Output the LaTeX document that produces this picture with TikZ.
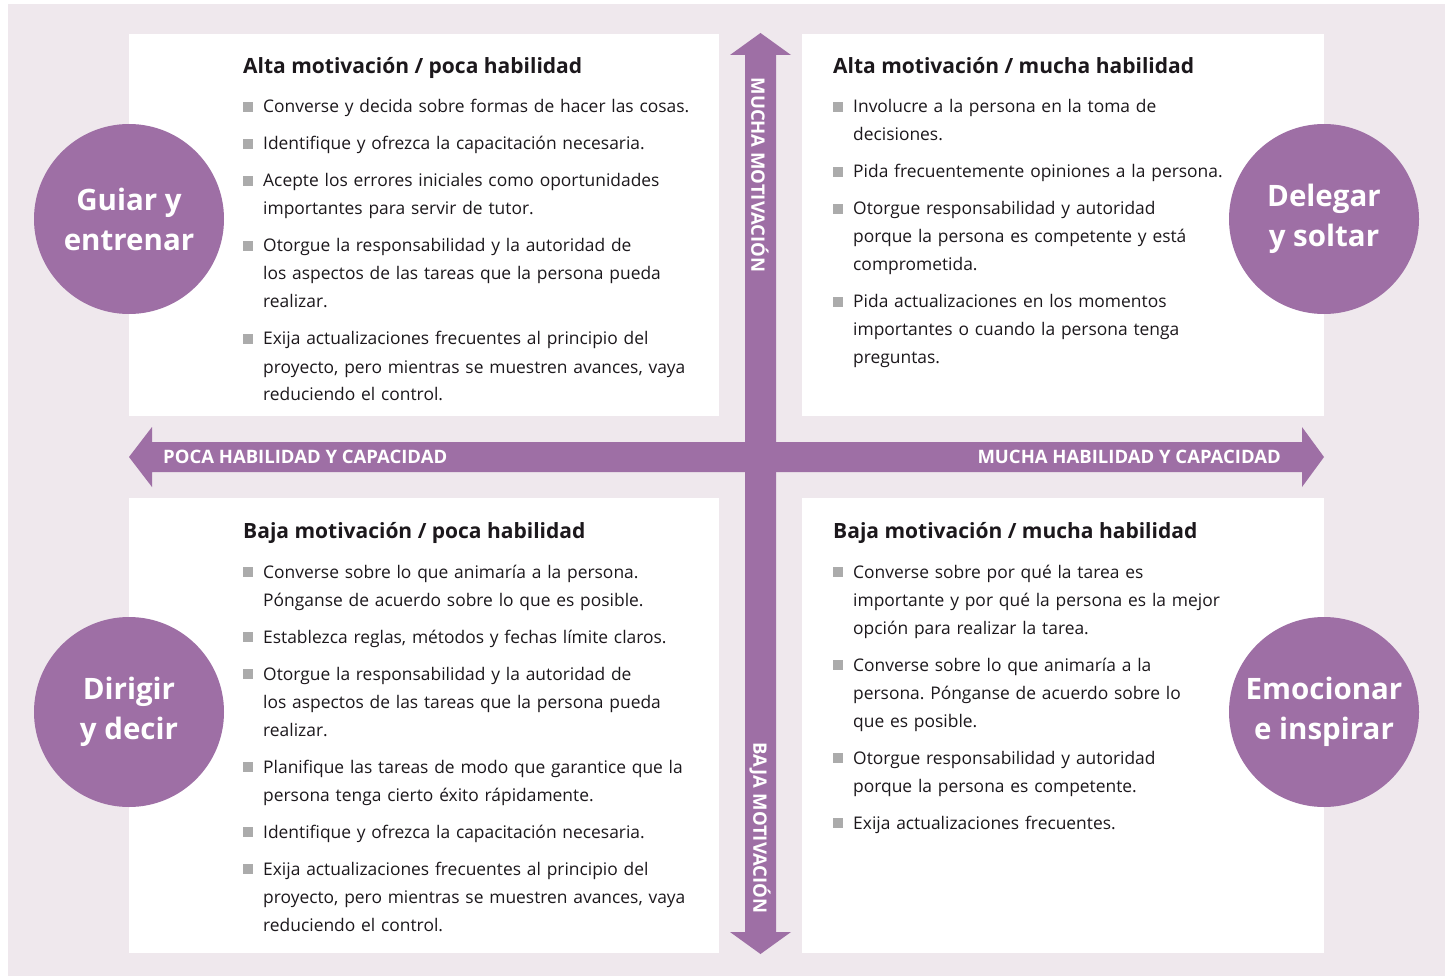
\documentclass[tikz,border=0pt]{standalone}
\usepackage{fontspec}
\setmainfont{Open Sans}
\usepackage{tikz}

\definecolor{morado}{RGB}{158,111,165}
\definecolor{fondo}{RGB}{239,232,237}
\definecolor{gris}{RGB}{171,171,171}
\definecolor{texto}{RGB}{28,24,28}

% one item of a list: grey square, then hanging text
\newcommand\punto[1]{\hangindent=20pt\hangafter=1\noindent\makebox[20pt][l]{\textcolor{gris}{\rule[1pt]{10pt}{10pt}}}#1\par}

\tikzset{
  titulo/.style={anchor=base west, inner sep=0, text=texto,
    font=\bfseries\fontsize{21}{25}\selectfont},
  lista/.style={anchor=base west, inner sep=0, text=texto, text width=480pt,
    align=left, font=\fontsize{17.4}{28}\selectfont\frenchspacing},
  circulo/.style={circle, fill=morado, minimum size=190pt, inner sep=0,
    text=white, align=center, font=\bfseries\fontsize{29.5}{40}\selectfont},
  eje/.style={inner sep=0, text=white, font=\bfseries\fontsize{18.5}{22}\selectfont}
}

\begin{document}
\begin{tikzpicture}[x=1pt,y=-1pt]
\useasboundingbox (0,0) rectangle (1450,979);

\fill[fondo] (8,4) rectangle (1445,976);
\fill[white] (129,34) rectangle (719,416);
\fill[white] (802,34) rectangle (1324,416);
\fill[white] (129,498) rectangle (719,953);
\fill[white] (802,498) rectangle (1324,953);

% axes
\coordinate (N) at (760.5,33);
\coordinate (S) at (760.5,954);
\coordinate (W) at (129,457);
\coordinate (E) at (1324,457);

\fill[morado] (745,55) -- (730,55) -- (N) -- (791,55) -- (776,55)
  -- (776,932) -- (791,932) -- (S) -- (730,932) -- (745,932) -- cycle;
\fill[morado] (152,442) -- (152,427) -- (W) -- (152,487) -- (152,472)
  -- (1302,472) -- (1302,487) -- (E) -- (1302,427) -- (1302,442) -- cycle;

\node[eje, anchor=base west] (poca) at (163,463.5) {POCA HABILIDAD Y CAPACIDAD};
\node[eje, anchor=base east] (mucha) at (1281,463.5) {MUCHA HABILIDAD Y CAPACIDAD};
\node[eje, rotate=-90] (alta) at (760,175) {MUCHA MOTIVACIÓN};
\node[eje, rotate=-90] (baja) at (760,828) {BAJA MOTIVACIÓN};

% top left
\node[titulo] (t1) at (243,73.5) {Alta motivación / poca habilidad};
\node[lista] (l1) at (243,113) {\setlength{\parskip}{9pt}%
\punto{Converse y decida sobre formas de hacer las cosas.}
\punto{Identifique y ofrezca la capacitación necesaria.}
\punto{Acepte los errores iniciales como oportunidades\newline importantes para servir de tutor.}
\punto{Otorgue la responsabilidad y la autoridad de\newline los aspectos de las tareas que la persona pueda\newline realizar.}
\punto{Exija actualizaciones frecuentes al principio del\newline proyecto, pero mientras se muestren avances, vaya\newline reduciendo el control.}};

% top right
\node[titulo] (t2) at (833,73.5) {Alta motivación / mucha habilidad};
\node[lista] (l2) at (833,113) {\setlength{\parskip}{9pt}%
\punto{Involucre a la persona en la toma de\newline decisiones.}
\punto{Pida frecuentemente opiniones a la persona.}
\punto{Otorgue responsabilidad y autoridad\newline porque la persona es competente y está\newline comprometida.}
\punto{Pida actualizaciones en los momentos\newline importantes o cuando la persona tenga\newline preguntas.}};

% bottom left
\node[titulo] (t3) at (243,538.5) {Baja motivación / poca habilidad};
\node[lista] (l3) at (243,578) {\setlength{\parskip}{9pt}%
\punto{Converse sobre lo que animaría a la persona.\newline Pónganse de acuerdo sobre lo que es posible.}
\punto{Establezca reglas, métodos y fechas límite claros.}
\punto{Otorgue la responsabilidad y la autoridad de\newline los aspectos de las tareas que la persona pueda\newline realizar.}
\punto{Planifique las tareas de modo que garantice que la\newline persona tenga cierto éxito rápidamente.}
\punto{Identifique y ofrezca la capacitación necesaria.}
\punto{Exija actualizaciones frecuentes al principio del\newline proyecto, pero mientras se muestren avances, vaya\newline reduciendo el control.}};

% bottom right
\node[titulo] (t4) at (833,538.5) {Baja motivación / mucha habilidad};
\node[lista] (l4) at (833,578) {\setlength{\parskip}{9pt}%
\punto{Converse sobre por qué la tarea es\newline importante y por qué la persona es la mejor\newline opción para realizar la tarea.}
\punto{Converse sobre lo que animaría a la\newline persona. Pónganse de acuerdo sobre lo\newline que es posible.}
\punto{Otorgue responsabilidad y autoridad\newline porque la persona es competente.}
\punto{Exija actualizaciones frecuentes.}};

% styles
\node[circulo] (guiar) at (129,219) {Guiar y\\entrenar};
\node[circulo] (delegar) at (1324,219) {Delegar\\y soltar};
\node[circulo] (dirigir) at (129,712) {Dirigir\\y decir};
\node[circulo] (emocionar) at (1324,712) {Emocionar\\e inspirar};
\end{tikzpicture}
\end{document}
